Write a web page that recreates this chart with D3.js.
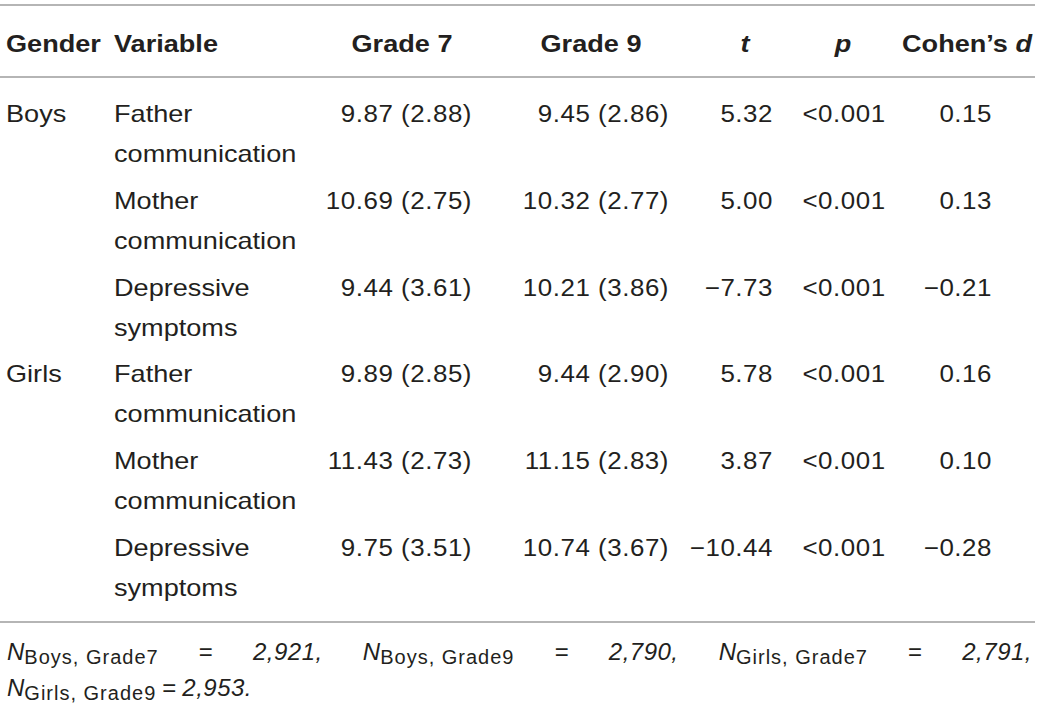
<!DOCTYPE html>
<html>
<head>
<meta charset="utf-8">
<script src="https://cdn.jsdelivr.net/npm/d3@7"></script>
<style>
  html, body { margin: 0; padding: 0; background: #ffffff; }
  svg { display: block; }
  text { font-family: "Liberation Sans", Arial, Helvetica, sans-serif; fill: #231f20; }
</style>
</head>
<body>
<svg id="chart" width="1043" height="710"></svg>
<script>
// ---------- data ----------
const headers = ["Gender", "Variable", "Grade 7", "Grade 9", "t", "p", "Cohen’s d"];
const genders = ["Boys", "", "", "Girls", "", ""];
const variables = ["Father communication", "Mother communication", "Depressive symptoms",
                   "Father communication", "Mother communication", "Depressive symptoms"];
const grade7Mean = [9.87, 10.69, 9.44, 9.89, 11.43, 9.75];
const grade7SD   = [2.88, 2.75, 3.61, 2.85, 2.73, 3.51];
const grade9Mean = [9.45, 10.32, 10.21, 9.44, 11.15, 10.74];
const grade9SD   = [2.86, 2.77, 3.86, 2.90, 2.83, 3.67];
const tValues    = [5.32, 5.00, -7.73, 5.78, 3.87, -10.44];
const pValues    = ["<0.001", "<0.001", "<0.001", "<0.001", "<0.001", "<0.001"];
const cohensD    = [0.15, 0.13, -0.21, 0.16, 0.10, -0.28];
const nGroups    = ["Boys, Grade7", "Boys, Grade9", "Girls, Grade7", "Girls, Grade9"];
const nValues    = [2921, 2790, 2791, 2953];

// ---------- layout ----------
const svg = d3.select("#chart");
const lineLeft = 0, lineRight = 1035;
const f2 = d3.format(".2f");
const fN = d3.format(",");
const SX = 1.13;    // horizontal widening of the typeface (words)
const SXN = 1.08;   // horizontal widening for numbers

// column anchors
const colX = d3.scaleOrdinal()
  .domain(["gender", "variable", "g7", "g9", "t", "p", "d"])
  .range([6, 114, 472, 669, 773, 844, 992]);
const headX = d3.scaleOrdinal()
  .domain(headers)
  .range([6, 114, 402, 591, 745, 843, 967]);
const headAnchor = ["start", "start", "middle", "middle", "middle", "middle", "middle"];

// rows
const rowY = d3.scaleLinear().domain([0, genders.length - 1]).range([122, 556]);
const lineStep = 40;

// helper: text drawn with a horizontally widened face
function wideText(parent, x, y, anchor, sx) {
  return parent.append("g")
    .attr("transform", `translate(${x},${y}) scale(${sx},1)`)
    .append("text").attr("x", 0).attr("y", 0).attr("text-anchor", anchor);
}

// rules
const rules = [5, 77, 622];
svg.selectAll("line.rule").data(rules).join("line")
  .attr("class", "rule")
  .attr("x1", lineLeft).attr("x2", lineRight)
  .attr("y1", d => d).attr("y2", d => d)
  .attr("stroke", "#9d9d9d").attr("stroke-width", 1.6);

// header
const head = svg.append("g").attr("class", "header");
headers.forEach((h, i) => {
  const t = wideText(head, headX(h), 52, headAnchor[i], SX)
    .style("font-size", "24px").style("font-weight", "bold");
  if (h === "t" || h === "p") {
    t.style("font-style", "italic").text(h);
  } else if (h === "Cohen’s d") {
    t.append("tspan").text("Cohen’s ");
    t.append("tspan").style("font-style", "italic").text("d");
  } else {
    t.text(h);
  }
});

// body
const body = svg.append("g").attr("class", "body");
const numStyle = sel => sel.style("font-size", "24px").style("letter-spacing", "0.5px");

genders.forEach((g, i) => {
  const y = rowY(i);
  if (g) {
    wideText(body, colX("gender"), y, "start", SX).style("font-size", "24px").text(g);
  }
  variables[i].split(" ").forEach((w, j) => {
    wideText(body, colX("variable"), y + j * lineStep, "start", SX)
      .style("font-size", "24px").text(w);
  });
  wideText(body, colX("g7"), y, "end", SXN).call(numStyle)
    .text(`${f2(grade7Mean[i])} (${f2(grade7SD[i])})`);
  wideText(body, colX("g9"), y, "end", SXN).call(numStyle)
    .text(`${f2(grade9Mean[i])} (${f2(grade9SD[i])})`);
  wideText(body, colX("t"), y, "end", SXN).call(numStyle).text(f2(tValues[i]));
  wideText(body, colX("p"), y, "middle", SXN).call(numStyle).text(pValues[i]);
  wideText(body, colX("d"), y, "end", SXN).call(numStyle).text(f2(cohensD[i]));
});

// ---------- footnote ----------
const foot = svg.append("g").attr("class", "footnote");
function nToken(parent, label) {
  const t = parent.append("text").style("font-size", "24px");
  t.append("tspan").style("font-style", "italic").text("N");
  t.append("tspan").attr("dy", 4).style("font-size", "20px")
    .style("letter-spacing", "1px").text(label);
  return t;
}
function eqToken(parent) {
  return parent.append("text").style("font-size", "24px").text("=");
}
function valToken(parent, s) {
  return parent.append("text").style("font-size", "24px").style("font-style", "italic")
    .style("letter-spacing", "0.5px").text(s);
}

// line 1: justified across the table width
const y1 = 660, y2 = 696;
const line1 = foot.append("g");
const tokens = [];
for (let k = 0; k < 3; k++) {
  tokens.push(nToken(line1, nGroups[k]));
  tokens.push(eqToken(line1));
  tokens.push(valToken(line1, fN(nValues[k]) + ","));
}
const widths = tokens.map(t => t.node().getComputedTextLength());
const left = 7, right = 1032;
const gap = (right - left - d3.sum(widths)) / (tokens.length - 1);
let cx = left;
tokens.forEach((t, i) => {
  t.attr("x", cx).attr("y", y1);
  cx += widths[i] + gap;
});

// line 2
const line2 = foot.append("g");
const t2 = [nToken(line2, nGroups[3]), eqToken(line2), valToken(line2, fN(nValues[3]) + ".")];
let cx2 = left;
t2.forEach(t => {
  t.attr("x", cx2).attr("y", y2);
  cx2 += t.node().getComputedTextLength() + 6;
});
</script>
</body>
</html>
